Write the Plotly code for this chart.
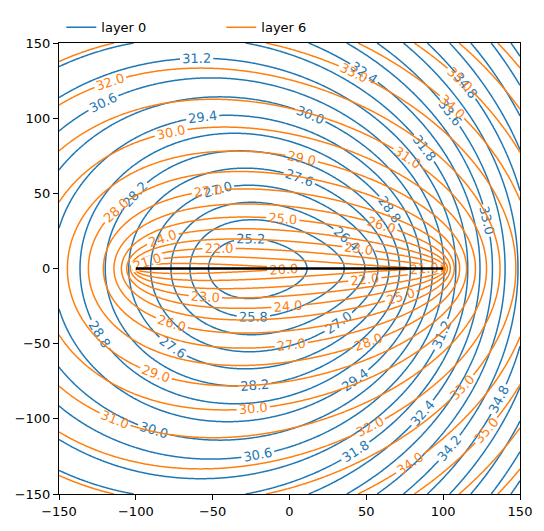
import numpy as np
import plotly.graph_objects as go

# ---- values ----
axis_limits = [-150, 150]
tick_vals = [-150, -100, -50, 0, 50, 100, 150]
series_names = ["layer 0", "layer 6"]
series_colors = ["#1f77b4", "#ff7f0e"]

# line sink (black segment) end points
sink_x = [-100, 100]
sink_y = [0, 0]

# contour levels: start, end, step
layer0_levels = [24.6, 37.2, 0.6]
layer6_levels = [16.0, 37.0, 1.0]

# layer 0 head surface (fitted to labelled contour positions): centre, half focal length, smoothing, core
layer0_shape = [4.0, 48.0, 15.0, 24.0]
layer0_coef = [23.442242, 0.018135, 0.065618, -5.4e-05]

# layer 6 head surface (elliptic coordinate about the sink segment)
layer6_coef = [19.93853, 0.01129, 18.83047, -10.7747, 3.59141, 0.00183]

# ---- fields ----
xg = np.linspace(axis_limits[0], axis_limits[1], 301)
yg = np.linspace(axis_limits[0], axis_limits[1], 301)
X, Y = np.meshgrid(xg, yg)

xs, F, e, s = layer0_shape
r1 = np.sqrt((X - xs - F) ** 2 + Y ** 2 + e ** 2)
r2 = np.sqrt((X - xs + F) ** 2 + Y ** 2 + e ** 2)
rho = 0.5 * (r1 + r2)
B = np.sqrt(np.maximum(rho ** 2 - F ** 2 - e ** 2, 0) + s ** 2)
c0 = layer0_coef
Z0 = c0[0] + c0[1] * X + c0[2] * B + c0[3] * B ** 2

half = 0.5 * (sink_x[1] - sink_x[0])
mid = 0.5 * (sink_x[1] + sink_x[0])
q1 = np.hypot(X - mid - half, Y)
q2 = np.hypot(X - mid + half, Y)
mu = np.arccosh(np.maximum((q1 + q2) / (2 * half), 1.0))
c6 = layer6_coef
Z6 = c6[0] + c6[1] * X + c6[2] * mu + c6[3] * mu ** 2 + c6[4] * mu ** 3 + c6[5] * X * mu

FONT = "DejaVu Sans"
fig = go.Figure()
for Z, lv, col in [(Z0, layer0_levels, series_colors[0]), (Z6, layer6_levels, series_colors[1])]:
    fig.add_trace(go.Contour(
        x=xg, y=yg, z=Z,
        contours=dict(start=lv[0], end=lv[1], size=lv[2], coloring="lines", showlabels=True,
                      labelfont=dict(size=13, color=col, family=FONT), labelformat=".1f"),
        line=dict(width=1.5), colorscale=[[0, col], [1, col]], showscale=False, showlegend=False,
        hoverinfo="skip"))

fig.add_trace(go.Scatter(x=sink_x, y=sink_y, mode="lines", line=dict(color="black", width=2.5), showlegend=False))
for name, col in zip(series_names, series_colors):
    fig.add_trace(go.Scatter(x=[None], y=[None], mode="lines", line=dict(color=col, width=1.5), name=name))

fig.update_layout(
    width=544, height=531, margin=dict(l=59, r=23, t=36, b=34),
    plot_bgcolor="white", paper_bgcolor="white",
    font=dict(family=FONT, size=13, color="black"),
    legend=dict(orientation="h", x=0.005, y=1.035, xanchor="left", yanchor="middle", entrywidth=115,
                font=dict(size=13), bgcolor="rgba(0,0,0,0)"),
)
axis_style = dict(range=axis_limits, tickvals=tick_vals, showline=True, linecolor="black", linewidth=1, mirror=True,
                  ticks="outside", ticklen=5, tickcolor="black", showgrid=False, zeroline=False)
fig.update_xaxes(**axis_style)
fig.update_yaxes(**axis_style)
fig.write_html("out.html")
